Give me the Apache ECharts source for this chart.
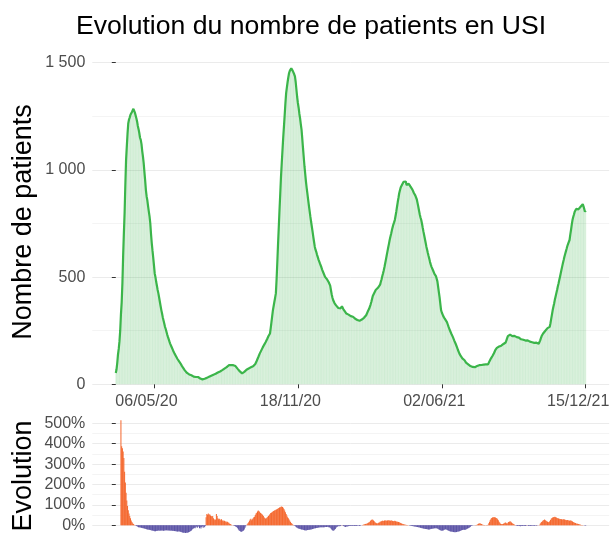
<!DOCTYPE html>
<html>
<head>
<meta charset="utf-8">
<title>Evolution du nombre de patients en USI</title>
<script src="https://cdn.jsdelivr.net/npm/echarts@6/dist/echarts.min.js"></script>
<style>
  html, body { margin: 0; padding: 0; background: #fff; }
  #chart { width: 612px; height: 535px; }
</style>
</head>
<body>
<div id="chart"></div>
<script>
// daily ICU patients, from 15/03/20 (day 0) to 15/12/21 (day 640)
const patients = [
  53, 70, 100, 140, 165, 200, 250, 326, 381, 470,
  600, 704, 800, 930, 1047, 1110, 1170, 1218, 1235, 1245,
  1257, 1262, 1270, 1278, 1285, 1276, 1267, 1260, 1241, 1226,
  1205, 1190, 1172, 1150, 1140, 1120, 1088, 1062, 1030, 990,
  950, 906, 876, 857, 830, 805, 782, 750, 700, 657,
  623, 590, 555, 517, 500, 478, 460, 440, 424, 405,
  385, 365, 346, 330, 312, 298, 284, 268, 258, 245,
  232, 221, 212, 200, 190, 182, 174, 166, 158, 150,
  143, 138, 131, 125, 118, 112, 108, 104, 98, 92,
  86, 80, 75, 70, 65, 60, 57, 53, 50, 48,
  46, 44, 43, 42, 40, 38, 36, 37, 35, 34,
  36, 33, 34, 30, 28, 27, 25, 24, 23, 22,
  24, 26, 25, 28, 30, 32, 34, 35, 37, 39,
  40, 41, 44, 45, 46, 48, 49, 50, 53, 55,
  57, 58, 60, 62, 63, 66, 69, 71, 73, 76,
  78, 80, 84, 86, 89, 88, 87, 90, 88, 86,
  89, 87, 89, 85, 80, 76, 72, 68, 65, 60,
  56, 53, 51, 50, 54, 58, 62, 65, 68, 70,
  73, 74, 76, 77, 79, 80, 82, 84, 86, 89,
  95, 102, 110, 118, 126, 134, 143, 150, 157, 164,
  171, 178, 184, 190, 196, 203, 210, 218, 225, 230,
  237, 262, 290, 318, 346, 365, 385, 404, 424, 490,
  570, 657, 735, 815, 890, 969, 1030, 1090, 1150, 1202,
  1255, 1310, 1358, 1385, 1410, 1432, 1452, 1462, 1468, 1474,
  1470, 1462, 1455, 1446, 1436, 1410, 1375, 1340, 1312, 1290,
  1262, 1240, 1212, 1187, 1145, 1100, 1058, 1016, 980, 945,
  915, 888, 860, 833, 808, 782, 758, 735, 712, 688,
  665, 642, 628, 618, 605, 594, 583, 575, 564, 555,
  546, 535, 526, 518, 510, 501, 498, 493, 488, 480,
  476, 471, 460, 440, 420, 405, 393, 385, 378, 372,
  368, 362, 360, 356, 352, 348, 354, 360, 364, 358,
  350, 345, 340, 336, 330, 332, 328, 325, 322, 320,
  318, 320, 316, 315, 312, 308, 306, 304, 302, 300,
  303, 299, 296, 300, 296, 302, 306, 304, 310, 315,
  318, 322, 330, 338, 345, 352, 361, 372, 384, 398,
  412, 420, 426, 431, 440, 436, 444, 450, 452, 455,
  465, 478, 490, 505, 518, 532, 548, 566, 584, 602,
  620, 638, 655, 673, 688, 702, 718, 732, 745, 755,
  766, 785, 805, 828, 850, 870, 891, 905, 918, 925,
  932, 938, 944, 935, 940, 946, 930, 938, 930, 935,
  928, 924, 922, 915, 908, 900, 892, 886, 880, 875,
  862, 845, 828, 810, 792, 778, 766, 750, 730, 712,
  695, 678, 660, 642, 628, 612, 598, 585, 570, 558,
  548, 540, 532, 524, 515, 510, 505, 501, 480, 455,
  430, 405, 375, 346, 335, 326, 318, 312, 306, 302,
  299, 290, 280, 270, 262, 252, 244, 236, 228, 221,
  212, 204, 196, 188, 180, 170, 160, 152, 143, 137,
  131, 126, 121, 117, 114, 112, 106, 101, 97, 95,
  93, 90, 87, 85, 83, 82, 81, 80, 81, 80,
  82, 84, 85, 86, 88, 89, 90, 89, 90, 91,
  90, 92, 91, 92, 93, 92, 93, 93, 100, 108,
  115, 121, 127, 132, 136, 145, 152, 160, 166, 170,
  174, 172, 176, 178, 176, 180, 184, 186, 188, 188,
  190, 195, 205, 215, 225, 230, 228, 232, 226, 229,
  225, 227, 224, 226, 222, 224, 220, 223, 221, 218,
  222, 214, 210, 215, 211, 208, 212, 206, 204, 208,
  202, 205, 200, 203, 199, 198, 198, 196, 199, 195,
  193, 196, 192, 194, 190, 192, 189, 190, 205, 215,
  225, 232, 237, 240, 245, 250, 252, 258, 262, 264,
  266, 268, 285, 305, 325, 345, 362, 377, 395, 410,
  425, 440, 456, 470, 486, 502, 518, 534, 550, 566,
  580, 595, 608, 620, 632, 645, 655, 664, 673, 698,
  720, 745, 766, 780, 792, 805, 813, 818, 812, 820,
  816, 824, 821, 828, 832, 836, 840, 830, 818, 805,
  810
];

// change in % over 7 days, same days as patients
const evolution = [
  null, null, null, null, null, null, null, 515, 388, 378,
  362, 330, 262, 210, 160, 122, 95, 74, 58, 46,
  35, 24, 16, 10, 6, 3, 1, -1, -3, -5,
  -7, -9, -10, -11, -11, -12, -13, -14, -15, -16,
  -17, -18, -19, -20, -21, -22, -22, -23, -24, -25,
  -26, -27, -28, -29, -29, -28, -27, -27, -26, -26,
  -27, -26, -25, -25, -26, -27, -26, -25, -24, -24,
  -25, -24, -25, -26, -26, -27, -26, -27, -28, -27,
  -28, -29, -28, -30, -31, -30, -29, -31, -32, -33,
  -34, -35, -36, -35, -37, -38, -36, -35, -37, -34,
  -33, -30, -28, -25, -20, -18, -15, -12, -14, -10,
  -6, -12, -8, -4, -14, -10, -16, -8, -5, -12,
  -6, -10, -4, 40, 55, 52, 58, 50, 54, 48,
  45, 42, 45, 35, 30, 25, 28, 55, 45, 35,
  30, 32, 24, 28, 30, 22, 25, 20, 22, 18,
  20, 15, 18, 14, 12, 8, 6, 4, 2, 0,
  1, -2, -4, -5, -8, -10, -15, -20, -25, -28,
  -30, -32, -30, -28, -25, -20, -12, -5, 0, 5,
  10, 15, 22, 28, 32, 25, 30, 35, 40, 42,
  50, 58, 62, 68, 72, 70, 65, 60, 58, 55,
  50, 45, 40, 36, 32, 34, 38, 42, 45, 50,
  55, 60, 62, 65, 68, 70, 72, 74, 76, 78,
  80, 82, 85, 87, 89, 91, 92, 90, 86, 80,
  72, 64, 56, 48, 40, 34, 28, 22, 16, 11,
  7, 4, 1, -1, -3, -6, -9, -12, -14, -16,
  -17, -18, -19, -20, -21, -22, -23, -24, -24, -25,
  -24, -23, -23, -22, -22, -21, -20, -19, -18, -17,
  -16, -15, -14, -13, -13, -12, -11, -11, -10, -10,
  -10, -10, -9, -9, -9, -8, -8, -8, -7, -8,
  -9, -10, -12, -16, -20, -24, -27, -25, -22, -18,
  -12, -8, -6, -5, -4, -5, -3, -1, 2, -1,
  -3, -5, -7, -8, -6, -5, -6, -4, -3, -4,
  -3, -2, -3, -3, -2, -3, -4, -3, -3, -2,
  -1, -2, -3, -2, -1, 0, 2, 3, 4, 5,
  6, 7, 8, 10, 12, 15, 18, 22, 26, 28,
  27, 24, 20, 15, 12, 10, 9, 10, 12, 14,
  17, 19, 20, 22, 22, 21, 23, 24, 23, 22,
  24, 25, 24, 23, 22, 24, 23, 21, 20, 21,
  22, 20, 19, 18, 17, 16, 15, 13, 11, 9,
  7, 6, 5, 4, 3, 3, 2, 1, 1, 0,
  -1, -2, -2, -3, -4, -5, -5, -6, -6, -7,
  -8, -8, -9, -10, -11, -12, -13, -14, -15, -16,
  -17, -17, -18, -18, -19, -19, -20, -20, -19, -18,
  -17, -17, -16, -16, -15, -15, -14, -14, -16, -18,
  -20, -22, -24, -26, -27, -26, -25, -23, -20, -19,
  -20, -22, -24, -26, -28, -29, -30, -31, -32, -32,
  -33, -34, -33, -34, -33, -32, -31, -30, -29, -28,
  -26, -24, -23, -22, -22, -22, -22, -20, -18, -16,
  -15, -13, -10, -7, -4, -2, -1, 0, -1, 0,
  1, 2, 3, 5, 7, 9, 10, 8, 6, 4,
  3, 2, 2, 1, 0, 1, 2, 3, 10, 18,
  26, 32, 36, 38, 40, 40, 39, 38, 36, 34,
  30, 25, 18, 12, 8, 6, 5, 6, 8, 10,
  12, 14, 10, 8, 12, 16, 18, 20, 17, 14,
  10, 8, 6, 3, 1, -1, -2, -3, -2, -4,
  -3, -5, -4, -3, -4, -2, -3, -4, -3, -2,
  2, -1, -3, -2, -4, -3, -2, -3, -1, -2,
  -3, -2, -1, -2, 1, -1, 0, 2, 8, 12,
  16, 20, 24, 26, 28, 25, 22, 20, 18, 15,
  16, 20, 26, 32, 36, 38, 40, 41, 42, 40,
  38, 36, 34, 33, 32, 30, 31, 30, 29, 28,
  30, 28, 27, 26, 25, 26, 25, 24, 22, 24,
  23, 21, 19, 16, 14, 12, 11, 9, 8, 8,
  6, 5, 4, 3, 2, 2, 1, 0, -1, -1,
  -2
];

const tickDays = [52, 248, 444, 640];
const tickLabels = ['06/05/20', '18/11/20', '02/06/21', '15/12/21'];

const font = "'Liberation Sans', Arial, sans-serif";
const green = '#3bb54a';
const orange = '#f4662c';
const purple = '#5b53a6';

const chart = echarts.init(document.getElementById('chart'));

const patientPoints = patients.map((v, i) => [i, v]);
const evolutionPoints = evolution.map((v, i) => [i, v]);

function thousands(v) {
  return v >= 1000 ? String(v).replace(/(\d)(\d{3})$/, '$1 $2') : String(v);
}

const option = {
  animation: false,
  backgroundColor: '#fff',
  title: {
    text: 'Evolution du nombre de patients en USI',
    left: 306,
    textAlign: 'center',
    top: 8,
    textStyle: { fontFamily: font, fontSize: 26.6, fontWeight: 'normal', color: '#000' }
  },
  graphic: [
    {
      type: 'text', x: 24, y: 222, rotation: Math.PI / 2,
      style: { text: 'Nombre de patients', font: '27px ' + font, fill: '#000', align: 'center', verticalAlign: 'middle' }
    },
    {
      type: 'text', x: 24, y: 476, rotation: Math.PI / 2,
      style: { text: 'Evolution', font: '27px ' + font, fill: '#000', align: 'center', verticalAlign: 'middle' }
    }
  ],
  grid: [
    { left: 92.3, right: 2.8, top: 62.7, height: 321.6, outerBoundsMode: 'none', containLabel: false },
    { left: 92.3, right: 2.8, top: 423.3, height: 122.4, outerBoundsMode: 'none', containLabel: false }
  ],
  xAxis: [
    {
      type: 'value', gridIndex: 0, min: -32, max: 672,
      axisLine: { show: false },
      splitLine: { show: false },
      axisTick: { customValues: tickDays, length: 4, lineStyle: { color: '#333' } },
      axisLabel: {
        customValues: tickDays,
        formatter: v => tickLabels[tickDays.indexOf(Math.round(v))] || '',
        fontFamily: font, fontSize: 16, color: '#4d4d4d', margin: 9,
        padding: [0, 15, 0, 0]
      }
    },
    {
      type: 'value', gridIndex: 1, min: -32, max: 672,
      axisLine: { show: false }, axisTick: { show: false },
      axisLabel: { show: false }, splitLine: { show: false }
    }
  ],
  yAxis: [
    {
      type: 'value', gridIndex: 0, min: 0, max: 1500, interval: 500,
      axisLine: { show: false },
      axisTick: { show: true, length: 4, lineStyle: { color: '#333' } },
      axisLabel: { formatter: thousands, fontFamily: font, fontSize: 16, color: '#4d4d4d', margin: 7 },
      splitLine: { lineStyle: { color: '#ebebeb', width: 1 } },
      minorTick: { show: false, splitNumber: 2 },
      minorSplitLine: { show: true, lineStyle: { color: '#f4f4f4', width: 1 } }
    },
    {
      type: 'value', gridIndex: 1, min: -100, max: 500, interval: 100,
      axisLine: { show: false },
      axisTick: { show: true, length: 4, lineStyle: { color: '#333' } },
      axisLabel: {
        formatter: v => (v >= 0 ? v + '%' : ''),
        fontFamily: font, fontSize: 16, color: '#4d4d4d', margin: 7
      },
      splitLine: { lineStyle: { color: '#ebebeb', width: 1 } },
      minorTick: { show: false, splitNumber: 2 },
      minorSplitLine: { show: true, lineStyle: { color: '#f4f4f4', width: 1 } }
    }
  ],
  series: [
    {
      name: 'Patients (barres)',
      type: 'bar', xAxisIndex: 0, yAxisIndex: 0,
      data: patientPoints,
      barWidth: 1,
      itemStyle: { color: 'rgba(59,181,74,0.16)' }
    },
    {
      name: 'Patients',
      type: 'line', xAxisIndex: 0, yAxisIndex: 0,
      data: patientPoints,
      showSymbol: false,
      lineStyle: { color: green, width: 2.2 }
    },
    {
      name: 'Evolution',
      type: 'bar', xAxisIndex: 1, yAxisIndex: 1,
      data: evolutionPoints,
      barWidth: 1,
      clip: false,
      itemStyle: { color: p => (p.value[1] >= 0 ? orange : purple) }
    }
  ]
};

chart.setOption(option);
</script>
</body>
</html>
